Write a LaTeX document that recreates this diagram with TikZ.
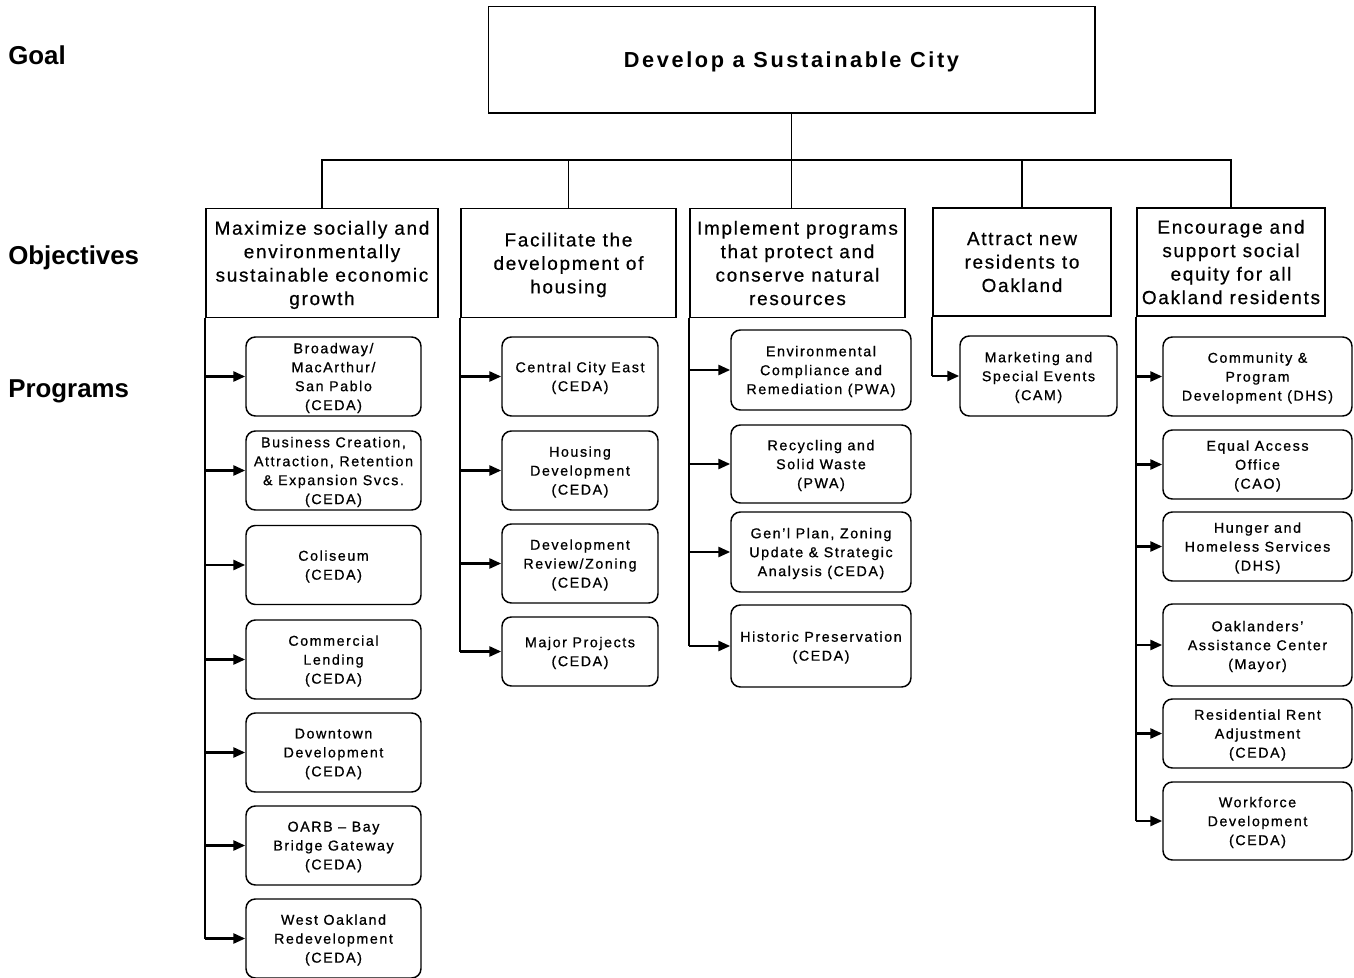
\documentclass[tikz,border=0pt]{standalone}
\usepackage{fontspec}
\setmainfont{Liberation Sans}
\newfontfamily\goalfont[LetterSpace=12]{Liberation Sans}
\newfontfamily\objfont[LetterSpace=9, FakeBold=0.6]{Liberation Sans}
\newfontfamily\progfont[LetterSpace=11, FakeBold=0.8]{Liberation Sans}
\usetikzlibrary{positioning,arrows.meta}
\tikzset{
  goalbox/.style={draw, line width=1pt, inner sep=0pt, minimum width=455pt, minimum height=80pt, text depth=0pt,
                  font=\goalfont\bfseries\fontsize{16.3}{18}\selectfont},
  objbox/.style={draw, line width=1.1pt, inner sep=0pt, align=center, minimum width=#1, minimum height=82pt,
                 text depth=0pt, font=\objfont\fontsize{14.2}{17.6}\selectfont},
  prog/.style={draw, line width=1.1pt, rounded corners=7pt, inner sep=0pt, align=center, text depth=0pt,
               minimum width=#1, minimum height=59.25pt, font=\progfont\fontsize{10.7}{14.2}\selectfont},
  lvl/.style={anchor=west, inner sep=0pt, font=\bfseries\fontsize{19.4}{22}\selectfont},
  trunk/.style={line width=1.2pt},
  feed/.style={-{Triangle[length=9pt, width=7.5pt]}, line width=2pt},
}
\begin{document}
\begin{tikzpicture}[x=0.75pt, y=-0.75pt]
  \useasboundingbox (0,0) rectangle (1354,978);
  % level labels
  \node[lvl] (lg) at (8,55) {Goal};
  \node[lvl] (lo) at (8,258) {Objectives};
  \node[lvl] (lp) at (8,391) {Programs};
  % goal and objectives
  \node[goalbox] (G) at (791.5,59.5) {Develop a Sustainable City};
  \node[objbox=174pt] (O1) at (322,263) {Maximize socially and\\environmentally\\sustainable economic\\growth};
  \node[objbox=161.25pt] (O2) at (568.5,263) {Facilitate the\\development of\\housing};
  \node[objbox=161.25pt] (O3) at (797.5,263) {Implement programs\\that protect and\\conserve natural\\resources};
  \node[objbox=133.5pt, minimum height=81pt] (O4) at (1022,262) {Attract new\\residents to\\Oakland};
  \node[objbox=141pt, minimum height=81pt] (O5) at (1231,262) {Encourage and\\support social\\equity for all\\Oakland residents};
  \coordinate (bus) at (791,160);
  % programs
  \node[prog=131.25pt] (a1) at (333.5,376.5) {Broadway/\\MacArthur/\\San Pablo\\(CEDA)};
  \node[prog=131.25pt] (a2) at (333.5,470.5) {Business Creation,\\Attraction, Retention\\\& Expansion Svcs.\\(CEDA)};
  \node[prog=131.25pt] (a3) at (333.5,565) {Coliseum\\(CEDA)};
  \node[prog=131.25pt] (a4) at (333.5,659.5) {Commercial\\Lending\\(CEDA)};
  \node[prog=131.25pt] (a5) at (333.5,752.5) {Downtown\\Development\\(CEDA)};
  \node[prog=131.25pt] (a6) at (333.5,845.5) {OARB \textendash{} Bay\\Bridge Gateway\\(CEDA)};
  \node[prog=131.25pt] (a7) at (333.5,938.5) {West Oakland\\Redevelopment\\(CEDA)};
  \node[prog=117pt] (b1) at (580,376.5) {Central City East\\(CEDA)};
  \node[prog=117pt] (b2) at (580,470.5) {Housing\\Development\\(CEDA)};
  \node[prog=117pt] (b3) at (580,563.5) {Development\\Review/Zoning\\(CEDA)};
  \node[prog=117pt, minimum height=51.75pt] (b4) at (580,651.5) {Major Projects\\(CEDA)};
  \node[prog=135pt, minimum height=60pt] (c1) at (821,370) {Environmental\\Compliance and\\Remediation (PWA)};
  \node[prog=135pt, minimum height=58.5pt] (c2) at (821,464) {Recycling and\\Solid Waste\\(PWA)};
  \node[prog=135pt, minimum height=60pt] (c3) at (821,552) {Gen’l Plan, Zoning\\Update \& Strategic\\Analysis (CEDA)};
  \node[prog=135pt, minimum height=61.5pt] (c4) at (821,646) {Historic Preservation\\(CEDA)};
  \node[prog=117.75pt, minimum height=60pt] (d1) at (1038.5,376) {Marketing and\\Special Events\\(CAM)};
  \node[prog=141.75pt] (e1) at (1257.5,376.5) {Community \&\\Program\\Development (DHS)};
  \node[prog=141.75pt, minimum height=51.75pt] (e2) at (1257.5,464.5) {Equal Access\\Office\\(CAO)};
  \node[prog=141.75pt, minimum height=51.75pt] (e3) at (1257.5,546.5) {Hunger and\\Homeless Services\\(DHS)};
  \node[prog=141.75pt, minimum height=61.5pt] (e4) at (1257.5,645) {Oaklanders’\\Assistance Center\\(Mayor)};
  \node[prog=141.75pt, minimum height=51.75pt] (e5) at (1257.5,733.5) {Residential Rent\\Adjustment\\(CEDA)};
  \node[prog=141.75pt, minimum height=58.5pt] (e6) at (1257.5,821) {Workforce\\Development\\(CEDA)};
  % goal to objectives
  \draw[trunk] (G.south) -- (G.south |- O3.north);
  \draw[trunk] (O1.north) -- (O1.north |- bus) -- (O5.north |- bus) -- (O5.north);
  \draw[trunk] (O2.north) -- (O2.north |- bus);
  \draw[trunk] (O4.north) -- (O4.north |- bus);
  % objectives to programs
  \draw[trunk] (O1.south west) -- (O1.south west |- a7.west);
  \draw[trunk] (O2.south west) -- (O2.south west |- b4.west);
  \draw[trunk] (O3.south west) -- (O3.south west |- c4.west);
  \draw[trunk] (O4.south west) -- (O4.south west |- d1.west);
  \draw[trunk] (O5.south west) -- (O5.south west |- e6.west);
  \foreach \p in {a1,a2,a3,a4,a5,a6,a7} \draw[feed] (O1.south west |- \p.west) -- (\p.west);
  \foreach \p in {b1,b2,b3,b4} \draw[feed] (O2.south west |- \p.west) -- (\p.west);
  \foreach \p in {c1,c2,c3,c4} \draw[feed] (O3.south west |- \p.west) -- (\p.west);
  \draw[feed] (O4.south west |- d1.west) -- (d1.west);
  \foreach \p in {e1,e2,e3,e4,e5,e6} \draw[feed] (O5.south west |- \p.west) -- (\p.west);
\end{tikzpicture}
\end{document}
